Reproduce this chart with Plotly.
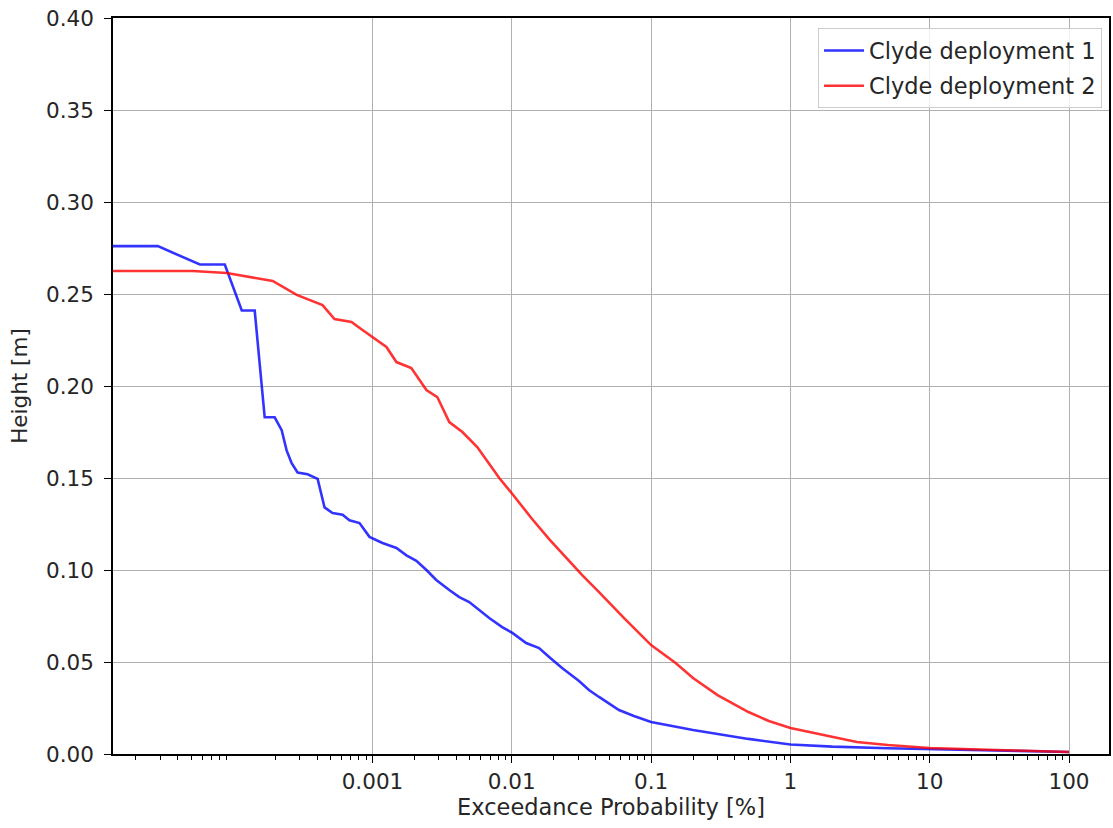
import plotly.graph_objects as go

# Clyde deployment 1 (exceedance probability in %, height in m)
dep1_prob = [1.37e-5, 2.88e-5, 5.77e-5, 8.71e-5, 1.153e-4, 1.428e-4, 1.684e-4, 1.986e-4,
             2.23e-4, 2.42e-4, 2.63e-4, 2.90e-4, 3.42e-4, 4.04e-4, 4.53e-4, 5.17e-4,
             6.10e-4, 6.84e-4, 8.07e-4, 9.52e-4, 1.18e-3, 1.486e-3, 1.753e-3, 2.066e-3,
             2.44e-3, 2.87e-3, 3.56e-3, 4.20e-3, 4.95e-3, 5.83e-3, 6.89e-3, 8.53e-3,
             0.0101, 0.01268, 0.0157, 0.01854, 0.02296, 0.0304, 0.0358, 0.0423,
             0.0499, 0.0588, 0.0753, 0.1, 0.2, 0.5, 1.0, 2.0, 5.0, 10.0, 30.0, 100]
dep1_height = [0.276, 0.276, 0.266, 0.266, 0.241, 0.241, 0.183, 0.183,
               0.176, 0.165, 0.158, 0.153, 0.152, 0.1495, 0.134, 0.131,
               0.130, 0.127, 0.1255, 0.118, 0.1147, 0.112, 0.108, 0.105,
               0.100, 0.0946, 0.0891, 0.0853, 0.0826, 0.0783, 0.0739, 0.069,
               0.0658, 0.0603, 0.0576, 0.0527, 0.0467, 0.0397, 0.0348, 0.031,
               0.0272, 0.0239, 0.0207, 0.0174, 0.0130, 0.0082, 0.0052, 0.0040, 0.0031,
               0.0026, 0.0018, 0.0011]

# Clyde deployment 2
dep2_prob = [1.37e-5, 5.14e-5, 9.0e-5, 1.922e-4, 2.86e-4, 4.38e-4, 5.34e-4, 7.07e-4,
             8.48e-4, 1.0e-3, 1.259e-3, 1.486e-3, 1.90e-3, 2.44e-3, 2.92e-3, 3.56e-3,
             4.42e-3, 5.65e-3, 8.13e-3, 0.0101, 0.0140, 0.01854, 0.02455, 0.0319,
             0.0423, 0.0648, 0.1, 0.15, 0.2, 0.3, 0.5, 0.7, 1.0, 2.0, 3.0, 5.0,
             10.0, 30.0, 100]
dep2_height = [0.2625, 0.2625, 0.2614, 0.2571, 0.2495, 0.2440, 0.2364, 0.2348,
               0.2304, 0.2266, 0.2212, 0.2130, 0.2098, 0.1978, 0.1940, 0.1804,
               0.1750, 0.1668, 0.1500, 0.1413, 0.1277, 0.1168, 0.1065, 0.0973,
               0.0880, 0.0734, 0.0592, 0.0495, 0.0413, 0.0320, 0.0228, 0.0179,
               0.0141, 0.0092, 0.0065, 0.0049, 0.0033, 0.0022, 0.0011]

x_tickvals = [0.001, 0.01, 0.1, 1, 10, 100]
x_ticktext = ["0.001", "0.01", "0.1", "1", "10", "100"]
y_tickvals = [0.0, 0.05, 0.10, 0.15, 0.20, 0.25, 0.30, 0.35, 0.40]

minor_vals = [m * 10.0 ** e for e in range(-5, 3) for m in range(2, 10)]

FONT = "DejaVu Sans"
FS = 21.5
FS_BIG = 22.5
TXT = "#262626"

fig = go.Figure()
fig.add_trace(go.Scatter(x=dep1_prob, y=dep1_height, mode="lines",
                         name="Clyde deployment 1", legendgroup="a",
                         line=dict(color="rgba(0,0,255,0.8)", width=2.6)))
fig.add_trace(go.Scatter(x=dep2_prob, y=dep2_height, mode="lines",
                         name="Clyde deployment 2", legendgroup="b",
                         line=dict(color="rgba(255,0,0,0.8)", width=2.6)))

fig.update_layout(
    width=1113, height=828,
    margin=dict(l=113, r=2, t=18, b=74),
    paper_bgcolor="white", plot_bgcolor="white",
    font=dict(family=FONT, size=FS, color=TXT),
    showlegend=True,
    legend=dict(x=0.993, y=0.986, xanchor="right", yanchor="top",
                bgcolor="rgba(255,255,255,0.8)", bordercolor="#cccccc", borderwidth=1,
                font=dict(family=FONT, size=FS_BIG, color=TXT),
                traceorder="grouped", tracegroupgap=3, itemwidth=40),
    xaxis=dict(
        type="log", range=[-4.8625, 2.287],
        tickmode="array", tickvals=x_tickvals, ticktext=x_ticktext,
        ticks="outside", ticklen=7, tickwidth=1.3, tickcolor="black",
        showline=True, linecolor="black", linewidth=1.5, mirror=True,
        showgrid=True, gridcolor="#b0b0b0", gridwidth=1.2,
        zeroline=False,
        minor=dict(tickmode="array", tickvals=minor_vals, ticks="outside",
                   ticklen=4, tickwidth=1, tickcolor="black", showgrid=False),
        title=dict(text="Exceedance Probability [%]", standoff=6,
                   font=dict(family=FONT, size=FS_BIG, color=TXT)),
        tickfont=dict(family=FONT, size=FS, color=TXT),
    ),
    yaxis=dict(
        range=[0, 0.4],
        tickmode="array", tickvals=y_tickvals, tickformat=".2f",
        ticks="outside", ticklen=7, tickwidth=1.3, tickcolor="black",
        ticklabelstandoff=6,
        showline=True, linecolor="black", linewidth=1.5, mirror=True,
        showgrid=True, gridcolor="#b0b0b0", gridwidth=1.2,
        zeroline=False,
        title=dict(text="Height [m]", standoff=13,
                   font=dict(family=FONT, size=FS, color=TXT)),
        tickfont=dict(family=FONT, size=FS, color=TXT),
    ),
)

fig.write_html("out.html")
